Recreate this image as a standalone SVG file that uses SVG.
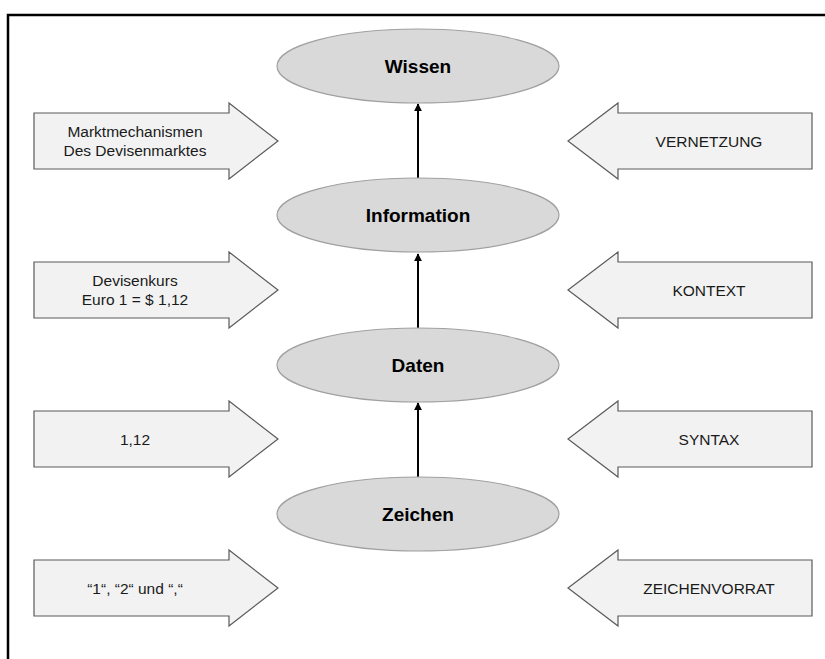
<svg xmlns="http://www.w3.org/2000/svg" width="825" height="659" viewBox="0 0 825 659">
  <defs>
    <style>
      .frame { fill: none; stroke: #000; stroke-width: 2.5; }
      .level { fill: #d9d9d9; stroke: #a0a0a0; stroke-width: 1.2; }
      .block { fill: #f2f2f2; stroke: #5a5a5a; stroke-width: 1.2; }
      .title { font-family: "Liberation Sans", Arial, sans-serif; font-weight: bold; font-size: 19px; fill: #000; text-anchor: middle; }
      .label { font-family: "Liberation Sans", Arial, sans-serif; font-size: 15.5px; fill: #1a1a1a; text-anchor: middle; }
      .link { stroke: #000; stroke-width: 2; fill: none; marker-end: url(#head); }
    </style>
    <marker id="head" viewBox="0 0 10 10" refX="9" refY="5" markerWidth="4" markerHeight="4" orient="auto" markerUnits="strokeWidth">
      <path d="M0,0 L10,5 L0,10 Z" fill="#000"/>
    </marker>
    <!-- right-pointing block arrow, centred on y=0 -->
    <path id="toRight" d="M34,-28 H229 V-38 L278,0 L229,38 V28 H34 Z"/>
    <!-- left-pointing block arrow, centred on y=0 -->
    <path id="toLeft" d="M812,-28 H618 V-38 L568,0 L618,38 V28 H812 Z"/>
  </defs>

  <!-- outer frame (open at right and bottom) -->
  <path class="frame" d="M8,659 V15 H825"/>

  <!-- connectors -->
  <g id="connectors">
    <line class="link" x1="418" y1="178" x2="418" y2="104"/>
    <line class="link" x1="418" y1="328" x2="418" y2="254"/>
    <line class="link" x1="418" y1="477" x2="418" y2="403"/>
  </g>

  <!-- hierarchy levels -->
  <g id="wissen">
    <ellipse class="level" cx="418" cy="66" rx="141" ry="37"/>
    <text class="title" x="418" y="73">Wissen</text>
  </g>
  <g id="information">
    <ellipse class="level" cx="418" cy="215" rx="141" ry="37"/>
    <text class="title" x="418" y="222">Information</text>
  </g>
  <g id="daten">
    <ellipse class="level" cx="418" cy="365" rx="141" ry="37"/>
    <text class="title" x="418" y="372">Daten</text>
  </g>
  <g id="zeichen">
    <ellipse class="level" cx="418" cy="514" rx="141" ry="37"/>
    <text class="title" x="418" y="521">Zeichen</text>
  </g>

  <!-- examples (left) -->
  <g id="beispiel-wissen" transform="translate(0,141)">
    <use href="#toRight" class="block"/>
    <text class="label" x="135" y="-4">Marktmechanismen</text>
    <text class="label" x="135" y="15">Des Devisenmarktes</text>
  </g>
  <g id="beispiel-information" transform="translate(0,290)">
    <use href="#toRight" class="block"/>
    <text class="label" x="135" y="-4">Devisenkurs</text>
    <text class="label" x="135" y="15">Euro 1 = $ 1,12</text>
  </g>
  <g id="beispiel-daten" transform="translate(0,439)">
    <use href="#toRight" class="block"/>
    <text class="label" x="135" y="6">1,12</text>
  </g>
  <g id="beispiel-zeichen" transform="translate(0,588)">
    <use href="#toRight" class="block"/>
    <text class="label" x="135" y="6">“1“, “2“ und “,“</text>
  </g>

  <!-- transitions (right) -->
  <g id="vernetzung" transform="translate(0,141)">
    <use href="#toLeft" class="block"/>
    <text class="label" x="709" y="6">VERNETZUNG</text>
  </g>
  <g id="kontext" transform="translate(0,290)">
    <use href="#toLeft" class="block"/>
    <text class="label" x="709" y="6">KONTEXT</text>
  </g>
  <g id="syntax" transform="translate(0,439)">
    <use href="#toLeft" class="block"/>
    <text class="label" x="709" y="6">SYNTAX</text>
  </g>
  <g id="zeichenvorrat" transform="translate(0,588)">
    <use href="#toLeft" class="block"/>
    <text class="label" x="709" y="6">ZEICHENVORRAT</text>
  </g>
</svg>
